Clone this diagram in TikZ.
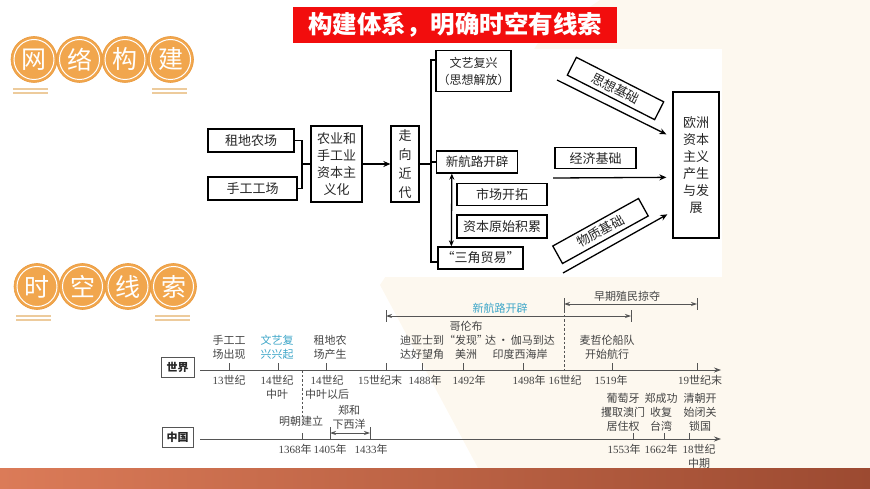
\documentclass[tikz,border=0pt]{standalone}
\usepackage{fontspec}
\setmainfont{Noto Sans CJK SC}
\newfontfamily\numfont{Liberation Serif}
\newcommand\mynum[1]{{\numfont #1}}
\usetikzlibrary{arrows.meta,calc}
\definecolor{orangeC}{HTML}{F1A64D}
\definecolor{orangeD}{HTML}{E99A3E}
\definecolor{tanL}{HTML}{EDCB9C}
\definecolor{tealT}{HTML}{3EA6C8}
\definecolor{txtD}{HTML}{262626}
\definecolor{txtT}{HTML}{444444}
\definecolor{lineT}{HTML}{555555}
\definecolor{bandL}{HTML}{DB7B58}
\definecolor{bandR}{HTML}{9C4A31}
\definecolor{creamBG}{HTML}{FDF8EF}
\definecolor{redT}{HTML}{F20D0D}
\begin{document}
\begin{tikzpicture}[x=1pt,y=-1pt,
  bx/.style={draw=black, line width=1.3pt, inner sep=0pt, align=center, text=txtD, font=\fontsize{13}{17}\selectfont},
  conn/.style={draw=black, line width=1.3pt},
  arr/.style={conn, -{Stealth[length=7pt,width=6pt]}},
  darr/.style={conn, {Stealth[length=6pt,width=5pt]}-{Stealth[length=6pt,width=5pt]}},
  disc/.style={circle, fill=orangeC, draw=orangeD, line width=0.6pt, minimum size=46pt, inner sep=0pt, text=white, font=\fontsize{25}{25}\selectfont},
  ring/.style={draw=white, line width=1pt},
  uline/.style={draw=tanL, line width=1.2pt},
  tl/.style={draw=lineT, line width=0.8pt},
  tlarr/.style={tl, -{Stealth[length=7pt,width=5pt]}},
  rng/.style={tl, {Stealth[length=6pt,width=4pt]}-{Stealth[length=6pt,width=4pt]}},
  lab/.style={text=txtT, align=center, inner sep=0pt, font=\fontsize{11}{14}\selectfont},
  ctry/.style={draw=lineT, line width=0.8pt, text=txtD, font=\bfseries\fontsize{11}{11}\selectfont, inner sep=0pt},
]
\useasboundingbox (0,0) rectangle (870,489);
% background
\fill[creamBG] (600,0) -- (870,0) -- (870,468) -- (478,468) -- (380,285) -- (540,40) -- cycle;
\fill[white] (196,49) rectangle (722,277);
\shade[left color=bandL, right color=bandR] (0,468) rectangle (870,489);

% title banner
\node[fill=redT, text=white, font=\bfseries\fontsize{24.5}{24.5}\selectfont, minimum width=324pt, minimum height=36pt, inner sep=0pt] (ttl) at (455,25) {构建体系，明确时空有线索};

% section heading 1
\node[disc] (a1) at (34,59.5) {网};
\node[disc] (a2) at (79.5,59.5) {络};
\node[disc] (a3) at (125,59.5) {构};
\node[disc] (a4) at (170.5,59.5) {建};
\foreach \n in {a1,a2,a3,a4} \draw[ring] (\n) circle (20pt);
\draw[uline] (13,89) -- (48,89);
\draw[uline] (13,93) -- (48,93);
\draw[uline] (152,89) -- (187,89);
\draw[uline] (152,93) -- (187,93);

% section heading 2
\node[disc] (b1) at (37,286.5) {时};
\node[disc] (b2) at (82.5,286.5) {空};
\node[disc] (b3) at (128,286.5) {线};
\node[disc] (b4) at (173.5,286.5) {索};
\foreach \n in {b1,b2,b3,b4} \draw[ring] (\n) circle (20pt);
\draw[uline] (16,316) -- (51,316);
\draw[uline] (16,320) -- (51,320);
\draw[uline] (155,316) -- (190,316);
\draw[uline] (155,320) -- (190,320);

% ---------- network diagram ----------
\node[bx, minimum width=86pt, minimum height=23pt] (zd) at (251,140.5) {租地农场};
\node[bx, minimum width=89pt, minimum height=23pt] (sg) at (252.5,188.5) {手工工场};
\node[bx, minimum width=51pt, minimum height=76pt] (ny) at (336.5,164) {农业和\\手工业\\资本主\\义化};
\node[bx, minimum width=28pt, minimum height=76pt, font=\fontsize{13}{19}\selectfont] (zx) at (405,164) {走\\向\\近\\代};
\node[bx, minimum width=75pt, minimum height=41pt, font=\fontsize{12}{17}\selectfont] (wy) at (473.5,71) {文艺复兴\\（思想解放）};
\node[bx, minimum width=81pt, minimum height=22pt, font=\fontsize{12.5}{14}\selectfont] (xh) at (477,162) {新航路开辟};
\node[bx, minimum width=90pt, minimum height=22pt] (sc) at (502,194.5) {市场开拓};
\node[bx, minimum width=90pt, minimum height=23pt] (zb) at (502,226.5) {资本原始积累};
\node[bx, minimum width=85pt, minimum height=22pt] (sj) at (480.5,258) {“三角贸易”};
\node[bx, minimum width=81pt, minimum height=21pt] (jj) at (595.5,158) {经济基础};
\node[bx, minimum width=46pt, minimum height=146pt, font=\fontsize{13}{17}\selectfont] (oz) at (696,165) {欧洲\\资本\\主义\\产生\\与发\\展};
\begin{scope}[y=1pt]
\node[bx, minimum width=98pt, minimum height=20pt, rotate=-27] (sx) at (615.5,-88.5) {思想基础};
\node[bx, minimum width=98pt, minimum height=20pt, rotate=29] (wz) at (600.5,-231) {物质基础};
\end{scope}

% connectors
\coordinate (b1j) at (302,164);
\draw[conn] (zd.east) -| (b1j) |- (sg.east);
\draw[conn] (b1j) -- (ny.west);
\draw[arr] (ny.east) -- (zx.west);
\coordinate (v1) at (431,60);
\coordinate (v2) at (431,262);
\draw[conn] (wy.west |- v1) -- (v1) -- (v2) -- (sj.west |- v2);
\draw[conn] (zx.east) -- (zx.east -| v1);
\draw[conn] (xh.west -| v1) -- (xh.west);
\draw[darr] ($(xh.south west)+(16,0)$) -- ($(sj.north west)+(14,0)$);
\coordinate (s1) at (557,80);
\coordinate (e1) at ($(oz.north west)+(-6,43)$);
\coordinate (s2) at (553,178);
\coordinate (e2) at ($(oz.north west)+(-6,86)$);
\coordinate (s3) at (563,273);
\coordinate (e3) at ($(oz.north west)+(-5,123)$);
\draw[arr] (s1) -- (e1);
\draw[arr] (s2) -- (e2);
\draw[arr] (s3) -- (e3);

% ---------- timeline ----------
\node[ctry, minimum width=33pt, minimum height=20pt] (world) at (177.5,367) {世界};
\node[ctry, minimum width=31pt, minimum height=20pt] (china) at (177.5,437) {中国};
\coordinate (w0) at (200,370);
\coordinate (w1) at (721,370);
\coordinate (c0) at (200,439);
\coordinate (c1) at (721,439);
\draw[tlarr] (w0) -- (w1);
\draw[tlarr] (c0) -- (c1);
\foreach \x in {229,278,326,386,422,463,523,612,697} \draw[tl] (\x,370) -- (\x,363);
\draw[tl] (564,298) -- (564,310);
\draw[tl, dash pattern=on 2.5pt off 2pt] (564,310) -- (564,370);
\draw[tl, dash pattern=on 2.5pt off 2pt] (302,370) -- (302,417);
\foreach \x in {302,633,664,689} \draw[tl] (\x,439) -- (\x,433);
\draw[tl] (330,427) -- (330,439);
\draw[tl] (370,427) -- (370,439);
% ranges
\draw[tl] (386,310) -- (386,322);
\draw[tl] (631,310) -- (631,322);
\draw[rng] (386,316) -- (631,316);
\draw[tl] (697,298) -- (697,310);
\draw[rng] (564,304) -- (697,304);
\draw[rng] (330,433) -- (370,433);
\node[lab, text=tealT] (rg1) at (500,308) {新航路开辟};
\node[lab] (rg2) at (627,296) {早期殖民掠夺};

% world labels below
\node[lab, anchor=north] at (229,375) {\mynum{13}世纪};
\node[lab, anchor=north] at (277,375) {\mynum{14}世纪\\中叶};
\node[lab, anchor=north] at (327,375) {\mynum{14}世纪\\中叶以后};
\node[lab, anchor=north] at (380,375) {\mynum{15}世纪末};
\node[lab, anchor=north] at (425,375) {\mynum{1488}年};
\node[lab, anchor=north] at (469,375) {\mynum{1492}年};
\node[lab, anchor=north] at (529,375) {\mynum{1498}年};
\node[lab, anchor=north] at (565,375) {\mynum{16}世纪};
\node[lab, anchor=north] at (611,375) {\mynum{1519}年};
\node[lab, anchor=north] at (700,375) {\mynum{19}世纪末};
% world labels above
\node[lab, anchor=south] at (229,360) {手工工\\场出现};
\node[lab, anchor=south, text=tealT] at (277,360) {文艺复\\兴兴起};
\node[lab, anchor=south] at (330,360) {租地农\\场产生};
\node[lab, anchor=south] at (422,360) {迪亚士到\\达好望角};
\node[lab, anchor=south] at (466,360) {哥伦布\\“发现”\\美洲};
\node[lab, anchor=south] at (520,360) {达\,·\,伽马到达\\印度西海岸};
\node[lab, anchor=south] at (607,360) {麦哲伦船队\\开始航行};
% china labels below
\node[lab, anchor=north] at (295,444) {\mynum{1368}年};
\node[lab, anchor=north] at (330,444) {\mynum{1405}年};
\node[lab, anchor=north] at (371,444) {\mynum{1433}年};
\node[lab, anchor=north] at (624,444) {\mynum{1553}年};
\node[lab, anchor=north] at (661,444) {\mynum{1662}年};
\node[lab, anchor=north] at (699,444) {\mynum{18}世纪\\中期};
% china labels above
\node[lab] at (301,421) {明朝建立};
\node[lab, anchor=south] at (349,429.5) {郑和\\下西洋};
\node[lab, anchor=south] at (623,431.5) {葡萄牙\\攫取澳门\\居住权};
\node[lab, anchor=south] at (661,431.5) {郑成功\\收复\\台湾};
\node[lab, anchor=south] at (700,431.5) {清朝开\\始闭关\\锁国};
\end{tikzpicture}
\end{document}
